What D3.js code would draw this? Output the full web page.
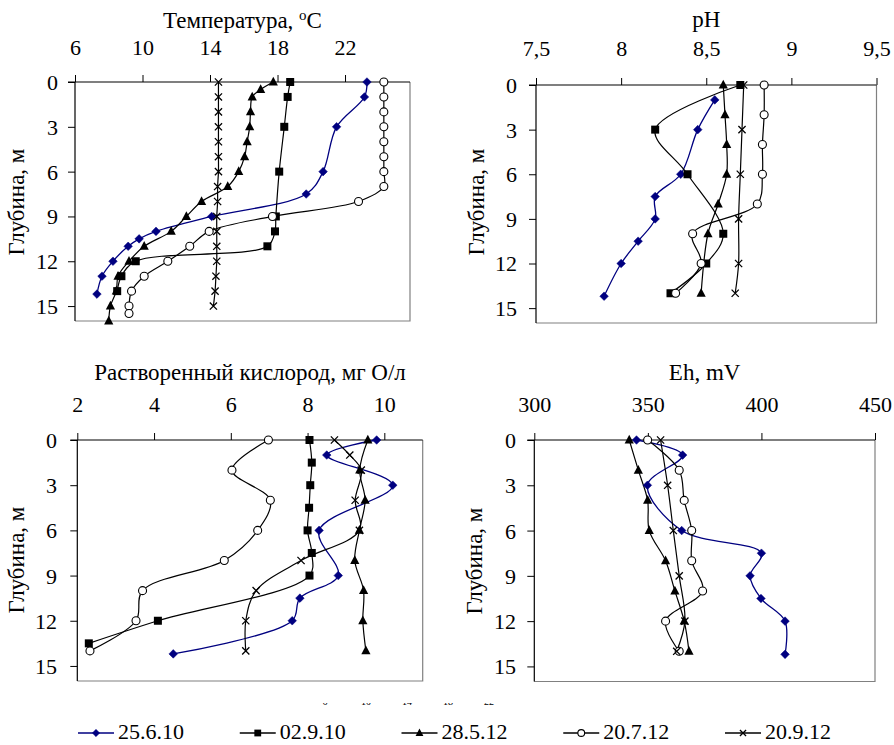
<!DOCTYPE html>
<html><head><meta charset="utf-8">
<script src="https://cdn.jsdelivr.net/npm/d3@7"></script>
<style>body{margin:0;background:#fff}svg{display:block}text{font-family:"Liberation Serif","Times New Roman",serif;fill:#000}</style>
</head><body><svg id="c" width="894" height="745" font-family="Liberation Serif"></svg>
<script>
// ---------- DATA ----------
const seriesNames = ["25.6.10", "02.9.10", "28.5.12", "20.7.12", "20.9.12"];
const depthTicks = [0, 3, 6, 9, 12, 15];

// Temperature, °C  [depth, value]
const temp_25_6_10 = [[0,23.3],[1,23.15],[3,21.5],[6,20.7],[7.5,19.7],[9,14.1],[10,10.8],[10.5,9.8],[11,9.15],[12,8.25],[13,7.6],[14.2,7.3]];
const temp_02_9_10 = [[0,18.75],[1,18.6],[3,18.4],[6,18.1],[9,17.9],[10,17.85],[11,17.4],[12,9.6],[13,8.75],[14,8.5]];
const temp_28_5_12 = [[0,17.75],[0.5,17.0],[1,16.5],[2,16.4],[3,16.35],[4,16.2],[5,16.05],[6,15.7],[7,15.05],[8,13.5],[9,12.6],[10,11.7],[11,10.1],[12,9.2],[13,8.55],[14,8.45],[15,8.1],[16,8.0]];
const temp_20_7_12 = [[0,24.3],[1,24.3],[2,24.3],[3,24.3],[4,24.3],[5,24.3],[6,24.3],[7,24.3],[8,22.8],[9,17.7],[10,13.95],[11,12.8],[12,11.5],[13,10.1],[14,9.35],[15,9.2],[15.5,9.2]];
const temp_20_9_12 = [[0,14.5],[1,14.5],[2,14.5],[3,14.5],[4,14.5],[5,14.5],[6,14.5],[7,14.45],[8,14.45],[9,14.4],[10,14.4],[11,14.4],[12,14.4],[13,14.35],[14,14.3],[15,14.2]];
const tempTicks = [6, 10, 14, 18, 22];

// pH
const ph_25_6_10 = [[1,8.55],[3,8.45],[6,8.35],[7.5,8.2],[9,8.2],[10.5,8.1],[12,8.0],[14.2,7.9]];
const ph_02_9_10 = [[0,8.7],[3,8.2],[6,8.39],[10,8.6],[12,8.5],[14,8.29]];
const ph_28_5_12 = [[0,8.6],[2,8.61],[4,8.62],[6,8.62],[8,8.57],[10,8.51],[14,8.47]];
const ph_20_7_12 = [[0,8.84],[2,8.84],[4,8.83],[6,8.83],[8,8.8],[10,8.42],[12,8.47],[14,8.32]];
const ph_20_9_12 = [[0,8.72],[3,8.71],[6,8.7],[9,8.69],[12,8.69],[14,8.67]];
const phTicks = [7.5, 8, 8.5, 9, 9.5];

// Dissolved oxygen, mg O/l
const o2_25_6_10 = [[0,9.8],[1,8.5],[3,10.22],[6,8.3],[9,8.8],[10.5,7.8],[12,7.6],[14.2,4.5]];
const o2_02_9_10 = [[0,8.05],[1.5,8.11],[3,8.07],[4.5,8.04],[6,8.0],[7.5,8.11],[9,8.05],[12,4.1],[13.5,2.3]];
const o2_28_5_12 = [[0,9.57],[2,9.36],[4,9.5],[6,9.35],[8,9.23],[10,9.46],[12,9.44],[14,9.52]];
const o2_20_7_12 = [[0,6.98],[2,6.03],[4,7.03],[6,6.7],[8,5.83],[10,3.7],[12,3.53],[14,2.33]];
const o2_20_9_12 = [[0,8.7],[1,9.1],[2,9.4],[4,9.24],[6,9.35],[8,7.83],[10,6.66],[12,6.39],[14,6.39]];
const o2Ticks = [2, 4, 6, 8, 10];

// Eh, mV
const eh_25_6_10 = [[0,345],[1,365.3],[3,349.8],[6,364.9],[7.5,400],[9,395],[10.5,399.8],[12,410.4],[14.2,410.4]];
const eh_02_9_10 = [];
const eh_28_5_12 = [[0,341.8],[2,345.8],[4,349.9],[6,350.6],[8,357.8],[10,361.9],[12,366],[14,368.1]];
const eh_20_7_12 = [[0,349.9],[2,363.8],[4,366],[6,369.3],[8,369.3],[10,374.1],[12,357.8],[14,363.8]];
const eh_20_9_12 = [[0,355.6],[3,358.7],[6,361.2],[9,363.8],[12,366.3],[14,362.7]];
const ehTicks = [300, 350, 400, 450];

// stray (clipped) labels below the oxygen panel
const strayLabels = ["6", "10", "14", "18", "22"];

// ---------- STYLE ----------
const colors = ["#000080", "#000", "#000", "#000", "#000"];
const markers = ["diamond", "square", "triangle", "circle", "times"];
const TICKF = 22, TITLEF = 23;

const svg = d3.select("#c");
svg.append("rect").attr("width", 894).attr("height", 745).attr("fill", "#fff");

function drawMarker(g, type, x, y, color, scale) {
  scale = scale || 1;
  if (type === "diamond") {
    const s = 4.3 * scale;
    g.append("path").attr("d", `M${x},${y-s}L${x+s},${y}L${x},${y+s}L${x-s},${y}Z`).attr("fill", color).attr("stroke", color).attr("stroke-width", 0.5);
  } else if (type === "square") {
    const s = 4 * scale;
    g.append("rect").attr("x", x - s).attr("y", y - s).attr("width", 2*s).attr("height", 2*s).attr("fill", "#000");
  } else if (type === "triangle") {
    const s = 4.6 * scale;
    g.append("path").attr("d", `M${x},${y-s*1.15}L${x+s},${y+s*0.75}L${x-s},${y+s*0.75}Z`).attr("fill", "#000");
  } else if (type === "circle") {
    g.append("circle").attr("cx", x).attr("cy", y).attr("r", 4 * scale).attr("fill", "#fff").attr("stroke", "#000").attr("stroke-width", 1.1);
  } else if (type === "times") {
    const s = 3.6 * scale;
    g.append("path").attr("d", `M${x-s},${y-s}L${x+s},${y+s}M${x-s},${y+s}L${x+s},${y-s}`).attr("stroke", "#000").attr("stroke-width", 1.3).attr("fill", "none");
  }
}

function panel(cfg) {
  const x = d3.scaleLinear().domain(cfg.xDomain).range([cfg.left, cfg.right]);
  const y = d3.scaleLinear().domain([0, 16]).range([cfg.top, cfg.bottom]);
  const g = svg.append("g");
  g.append("path").attr("d", `M${cfg.right},${cfg.top}V${cfg.bottom}H${cfg.left}`).attr("fill", "none").attr("stroke", "#808080").attr("stroke-width", 1.2);
  const xa = d3.axisTop(x).tickValues(cfg.xTicks).tickSize(7).tickSizeOuter(0).tickFormat(cfg.fmt || d3.format("d"));
  const gx = g.append("g").attr("transform", `translate(0,${cfg.top})`).call(xa).attr("font-family", null).attr("font-size", null);
  gx.select(".domain").attr("d", `M${cfg.left - 7},0H${cfg.right}`).attr("stroke", "#000").attr("stroke-width", 1.2);
  gx.selectAll(".tick line").attr("stroke", "#000");
  gx.selectAll(".tick text").attr("font-size", TICKF).attr("fill", "#000").attr("y", -(cfg.top - cfg.tickBase)).attr("dy", 0);
  const ya = d3.axisLeft(y).tickValues(depthTicks).tickSize(7).tickSizeOuter(0);
  const gy = g.append("g").attr("transform", `translate(${cfg.left},0)`).call(ya).attr("font-family", null).attr("font-size", null);
  gy.select(".domain").attr("d", `M0,${cfg.top}V${cfg.bottom}`).attr("stroke", "#000").attr("stroke-width", 1.2);
  gy.selectAll(".tick line").attr("stroke", "#000");
  gy.selectAll(".tick text").attr("font-size", TICKF).attr("fill", "#000").attr("x", -(cfg.left - cfg.yLabelRight)).attr("dy", "0.34em");
  const t = g.append("text").attr("x", (cfg.left + cfg.right) / 2).attr("y", cfg.titleBase).attr("text-anchor", "middle").attr("font-size", TITLEF);
  if (cfg.titleSup) {
    t.append("tspan").text(cfg.title);
    t.append("tspan").text(cfg.titleSup).attr("font-size", 15).attr("dy", -8);
    t.append("tspan").text(cfg.titleAfter).attr("dy", 8);
  } else t.text(cfg.title);
  g.append("text").attr("transform", `translate(${cfg.yTitleX},${cfg.yTitleY}) rotate(-90)`).attr("text-anchor", "middle").attr("font-size", TITLEF).text("Глубина, м");
  const line = d3.line().x(d => x(d[1])).y(d => y(d[0])).curve(d3.curveCatmullRom.alpha(0.5));
  cfg.series.forEach((s, i) => {
    if (!s.length) return;
    g.append("path").datum(s).attr("d", line).attr("fill", "none").attr("stroke", colors[i]).attr("stroke-width", i === 0 ? 1.3 : 1.2);
  });
  cfg.series.forEach((s, i) => {
    s.forEach(d => drawMarker(g, markers[i], x(d[1]), y(d[0]), colors[i]));
  });
}

const fmtComma = d => String(d).replace(".", ",");

panel({left: 75, right: 410, top: 82, bottom: 321, xDomain: [6, 25.85], xTicks: tempTicks, tickBase: 55, yLabelRight: 58, titleBase: 28,
  title: "Температура, ", titleSup: "o", titleAfter: "C", yTitleX: 24, yTitleY: 202,
  series: [temp_25_6_10, temp_02_9_10, temp_28_5_12, temp_20_7_12, temp_20_9_12]});
panel({left: 536, right: 876.5, top: 85, bottom: 323, xDomain: [7.5, 9.5], xTicks: phTicks, fmt: fmtComma, tickBase: 56, yLabelRight: 517, titleBase: 27,
  title: "pH", yTitleX: 484, yTitleY: 202,
  series: [ph_25_6_10, ph_02_9_10, ph_28_5_12, ph_20_7_12, ph_20_9_12]});
panel({left: 77.3, right: 422.7, top: 440, bottom: 681, xDomain: [2, 11], xTicks: o2Ticks, tickBase: 412, yLabelRight: 57, titleBase: 380,
  title: "Растворенный кислород, мг О/л", yTitleX: 24, yTitleY: 560,
  series: [o2_25_6_10, o2_02_9_10, o2_28_5_12, o2_20_7_12, o2_20_9_12]});
panel({left: 534.3, right: 875, top: 440, bottom: 681.5, xDomain: [300, 450], xTicks: ehTicks, tickBase: 412, yLabelRight: 516, titleBase: 380,
  title: "Eh, mV", yTitleX: 482, yTitleY: 561,
  series: [eh_25_6_10, eh_02_9_10, eh_28_5_12, eh_20_7_12, eh_20_9_12]});

// clipped stray tick labels (only their bottom pixels show)
const clip = svg.append("defs").append("clipPath").attr("id", "cl");
clip.append("rect").attr("x", 300).attr("y", 703).attr("width", 200).attr("height", 2.2);
const stray = svg.append("g").attr("clip-path", "url(#cl)");
const strayX = d3.scalePoint().domain(strayLabels).range([325, 489]);
strayLabels.forEach(s => stray.append("text").attr("x", strayX(s)).attr("y", 705).attr("text-anchor", "middle").attr("font-size", 10).text(s));

// legend
const legX = d3.scaleLinear().domain([0, 4]).range([78, 725]);
const leg = svg.append("g");
seriesNames.forEach((n, i) => {
  const x0 = legX(i);
  leg.append("line").attr("x1", x0).attr("x2", x0 + 36).attr("y1", 733).attr("y2", 733).attr("stroke", colors[i]).attr("stroke-width", 1.3);
  drawMarker(leg, markers[i], x0 + 18, 733, colors[i], 0.85);
  leg.append("text").attr("x", x0 + 40).attr("y", 739).attr("font-size", 22).text(n);
});
</script></body></html>
